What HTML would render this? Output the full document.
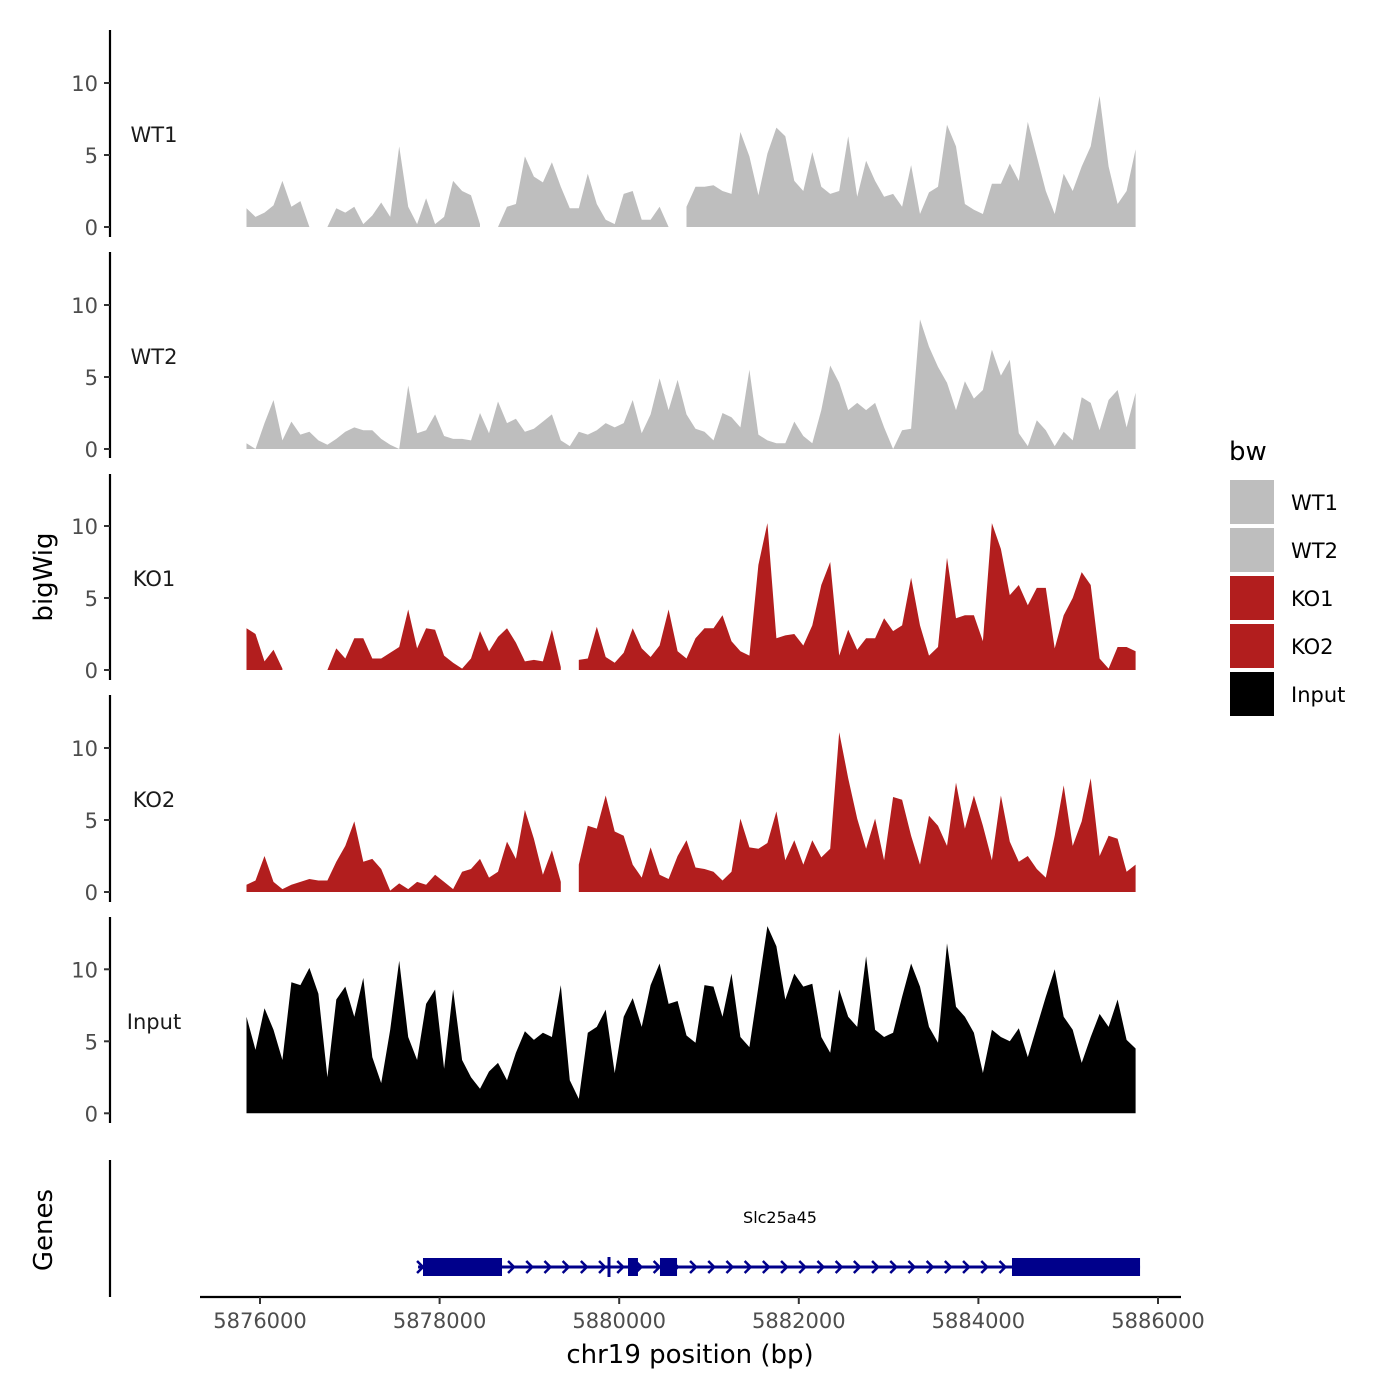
<!DOCTYPE html>
<html><head><meta charset="utf-8"><style>
html,body{margin:0;padding:0;background:#fff;}
svg{display:block;font-family:"DejaVu Sans","Liberation Sans",sans-serif;}
</style></head><body>
<svg id="chart" width="1400" height="1400" viewBox="0 0 1400 1400" xmlns="http://www.w3.org/2000/svg">
<rect width="1400" height="1400" fill="#fff"/>
<g id="tracks"></g>
<g id="genes"></g>
<g id="axes"></g>
<g id="legend"></g>
</svg>
<script>
const startBp = 5875850;
const stepBp = 100;
const trackNames = ["WT1","WT2","KO1","KO2","Input"];
const trackColors = ["#bebebe","#bebebe","#b21e1e","#b21e1e","#000000"];
const yTicks = [0,5,10];
const xTicks = [5876000,5878000,5880000,5882000,5884000,5886000];
const xTickLabels = ["5876000","5878000","5880000","5882000","5884000","5886000"];
const wt1 = [1.3,0.7,1,1.5,3.2,1.4,1.8,0,null,0,1.3,1,1.4,0.2,0.8,1.7,0.7,5.6,1.4,0.2,2,0.2,0.7,3.2,2.5,2.2,0.2,null,0,1.4,1.6,4.9,3.5,3.1,4.5,2.8,1.3,1.3,3.7,1.6,0.5,0.2,2.3,2.5,0.5,0.5,1.4,0,null,1.4,2.8,2.8,2.9,2.5,2.3,6.6,4.9,2.2,5.1,6.9,6.3,3.2,2.5,5.2,2.8,2.3,2.5,6.3,2.1,4.6,3.2,2.1,2.3,1.4,4.3,0.9,2.4,2.8,7.1,5.6,1.6,1.2,0.9,3,3,4.4,3.2,7.3,4.9,2.5,0.9,3.7,2.5,4.2,5.6,9.1,4.2,1.6,2.5,5.4];
const wt2 = [0.4,0,1.8,3.4,0.6,1.9,1,1.2,0.6,0.3,0.7,1.2,1.5,1.3,1.3,0.7,0.3,0,4.4,1.1,1.3,2.4,0.9,0.7,0.7,0.6,2.5,1.1,3.3,1.8,2.1,1.2,1.4,1.9,2.4,0.6,0.2,1.2,1,1.3,1.8,1.5,1.8,3.4,1.1,2.4,4.9,2.7,4.8,2.4,1.4,1.2,0.6,2.5,2.2,1.5,5.5,1,0.6,0.4,0.4,1.9,0.9,0.4,2.7,5.8,4.6,2.7,3.2,2.7,3.2,1.5,0,1.3,1.4,9,7.1,5.7,4.6,2.7,4.7,3.5,4.1,6.9,5.1,6.2,1.1,0.2,2,1.3,0.2,1.2,0.6,3.6,3.2,1.3,3.4,4.1,1.5,3.9];
const ko1 = [2.9,2.5,0.6,1.4,0.1,null,null,null,null,0,1.5,0.8,2.2,2.2,0.8,0.8,1.2,1.6,4.2,1.5,2.9,2.8,1,0.5,0.1,0.8,2.7,1.3,2.3,2.9,1.9,0.6,0.7,0.6,2.8,0.2,null,0.7,0.8,3,0.9,0.5,1.2,2.9,1.5,0.9,1.7,4.2,1.3,0.8,2.2,2.9,2.9,3.8,2,1.3,1,7.3,10.2,2.2,2.4,2.5,1.7,3.1,5.9,7.5,1,2.8,1.4,2.2,2.2,3.6,2.7,3.1,6.4,3.1,1,1.6,7.8,3.6,3.8,3.8,2,10.2,8.4,5.2,5.9,4.5,5.7,5.7,1.5,3.8,5,6.8,5.9,0.8,0.1,1.6,1.6,1.3];
const ko2 = [0.5,0.8,2.5,0.7,0.2,0.5,0.7,0.9,0.8,0.8,2.1,3.2,4.9,2.1,2.3,1.6,0.1,0.6,0.2,0.7,0.5,1.2,0.7,0.2,1.4,1.6,2.3,1,1.4,3.5,2.3,5.7,3.7,1.2,2.9,0.7,null,1.9,4.6,4.4,6.7,4.2,3.9,1.9,1,3.1,1.2,0.9,2.5,3.6,1.7,1.6,1.4,0.8,1.4,5.1,3.1,3,3.4,5.6,2.2,3.6,1.9,3.6,2.4,3,11.1,7.9,5.1,3,5.1,2.2,6.6,6.4,3.9,1.9,5.3,4.6,3.2,7.6,4.4,6.7,4.6,2.2,6.7,3.5,2.1,2.5,1.6,1,3.9,7.4,3.2,4.9,7.9,2.5,3.9,3.7,1.4,1.9];
const input = [6.7,4.4,7.3,5.8,3.7,9.1,8.9,10.1,8.3,2.5,7.9,8.8,6.7,9.4,3.9,2.1,5.8,10.6,5.3,3.7,7.6,8.6,3.1,8.6,3.7,2.5,1.7,2.9,3.5,2.3,4.2,5.7,5.1,5.6,5.3,8.9,2.3,1,5.6,6,7.2,2.8,6.7,8,6,8.9,10.4,7.6,7.8,5.4,4.9,8.9,8.8,6.7,9.7,5.3,4.6,8.8,13,11.6,7.9,9.7,8.8,9,5.3,4.2,8.6,6.7,6,10.9,5.8,5.3,5.6,8.1,10.4,8.8,6,4.9,11.8,7.4,6.7,5.6,2.8,5.8,5.3,5,5.9,3.9,6,8.1,10,6.7,5.8,3.5,5.3,6.9,6,7.9,5.1,4.5];
const trackValues = [wt1,wt2,ko1,ko2,input];
const exonStarts = [5877815,5880098,5880454,5884374];
const exonEnds = [5878695,5880209,5880644,5885800];
const geneStart = 5877760, geneEnd = 5885800;
const geneName = "Slc25a45";

const NS="http://www.w3.org/2000/svg";
function el(tag,attrs,parent){const e=document.createElementNS(NS,tag);for(const k in attrs)e.setAttribute(k,attrs[k]);if(parent)parent.appendChild(e);return e;}
const xScale = bp => 260 + (bp-5876000)*0.0898;
const trackBase = [227,449,670,892,1113.3];
const unitPx = 14.4;
const panelTop = [30,252,474,695,917];
const panelBot = [237,458,680,902,1123];
const labelY = [134,356,578,799,1021];
const tracks=document.getElementById('tracks');
trackNames.forEach((name,t)=>{
  const g=el('g',{},tracks);
  
  
  const vals=trackValues[t], base=trackBase[t];
  const y=v=>base-v*unitPx;
  let seg=[];
  const flush=()=>{
    if(seg.length>1){
      let d='M'+xScale(seg[0][0]).toFixed(1)+','+base;
      seg.forEach(p=>{d+='L'+xScale(p[0]).toFixed(1)+','+y(p[1]).toFixed(1);});
      d+='L'+xScale(seg[seg.length-1][0]).toFixed(1)+','+base+'Z';
      const p=el('path',{d:d,fill:trackColors[t]},g);
      
      
    }
    seg=[];
  };
  vals.forEach((v,i)=>{if(v===null)flush();else seg.push([startBp+i*stepBp,v]);});
  flush();
  const ax=el('line',{x1:110,x2:110,y1:panelTop[t],y2:panelBot[t],stroke:'#000','stroke-width':2.2},g);
  
  
  yTicks.forEach(v=>{
    el('line',{x1:104,x2:110,y1:y(v),y2:y(v),stroke:'#333','stroke-width':2},g);
    const tx=el('text',{x:98,y:y(v)+8,'text-anchor':'end','font-size':21,fill:'#4d4d4d'},g);
    tx.textContent=v;
    
    
  });
  const lb=el('text',{x:154,y:labelY[t]+8,'text-anchor':'middle','font-size':21,fill:'#1a1a1a'},g);
  lb.textContent=name;
  
  
});
// genes
const gg=document.getElementById('genes');
el('line',{x1:110,x2:110,y1:1160,y2:1297,stroke:'#000','stroke-width':2.2},gg);
const gy=1267;
el('line',{x1:xScale(geneStart),x2:xScale(geneEnd),y1:gy,y2:gy,stroke:'#00008b','stroke-width':3},gg);
for(let x=xScale(geneStart)+2;x<xScale(geneEnd)-4;x+=18.2){
  el('path',{d:`M${x-3},${gy-6}L${x+3},${gy}L${x-3},${gy+6}`,fill:'none',stroke:'#00008b','stroke-width':2.5},gg);
}
el('line',{x1:609,x2:609,y1:gy-10,y2:gy+10,stroke:'#00008b','stroke-width':3},gg);
exonStarts.forEach((s,i)=>{
  const r=el('rect',{x:xScale(s),y:gy-9,width:xScale(exonEnds[i])-xScale(s),height:18,fill:'#00008b'},gg);
  
  
});
const gn=el('text',{x:780,y:1223,'text-anchor':'middle','font-size':16,fill:'#000'},gg);
gn.textContent=geneName;


// axes
const ag=document.getElementById('axes');
el('line',{x1:200,x2:1181,y1:1297,y2:1297,stroke:'#000','stroke-width':2.2},ag);
xTicks.forEach((b,i)=>{
  el('line',{x1:xScale(b),x2:xScale(b),y1:1297,y2:1304,stroke:'#333','stroke-width':2},ag);
  const t=el('text',{x:xScale(b),y:1328,'text-anchor':'middle','font-size':21,fill:'#4d4d4d'},ag);
  t.textContent=xTickLabels[i];
  
  
});
const xt=el('text',{x:690,y:1363,'text-anchor':'middle','font-size':26,fill:'#000'},ag);
xt.textContent='chr19 position (bp)';


const yt=el('text',{x:52,y:577,'text-anchor':'middle','font-size':26,fill:'#000',transform:'rotate(-90 52 577)'},ag);
yt.textContent='bigWig';


const gt=el('text',{x:52,y:1230,'text-anchor':'middle','font-size':26,fill:'#000',transform:'rotate(-90 52 1230)'},ag);
gt.textContent='Genes';


// legend
const lg=document.getElementById('legend');
const lt=el('text',{x:1229,y:460,'font-size':26,fill:'#000'},lg);
lt.textContent='bw';


trackNames.forEach((n,i)=>{
  const r=el('rect',{x:1230,y:480+i*48,width:44,height:44,fill:trackColors[i]},lg);
  
  
  const t=el('text',{x:1291,y:510+i*48,'font-size':21,fill:'#000'},lg);
  t.textContent=n;
  
  
});
</script>
</body></html>
